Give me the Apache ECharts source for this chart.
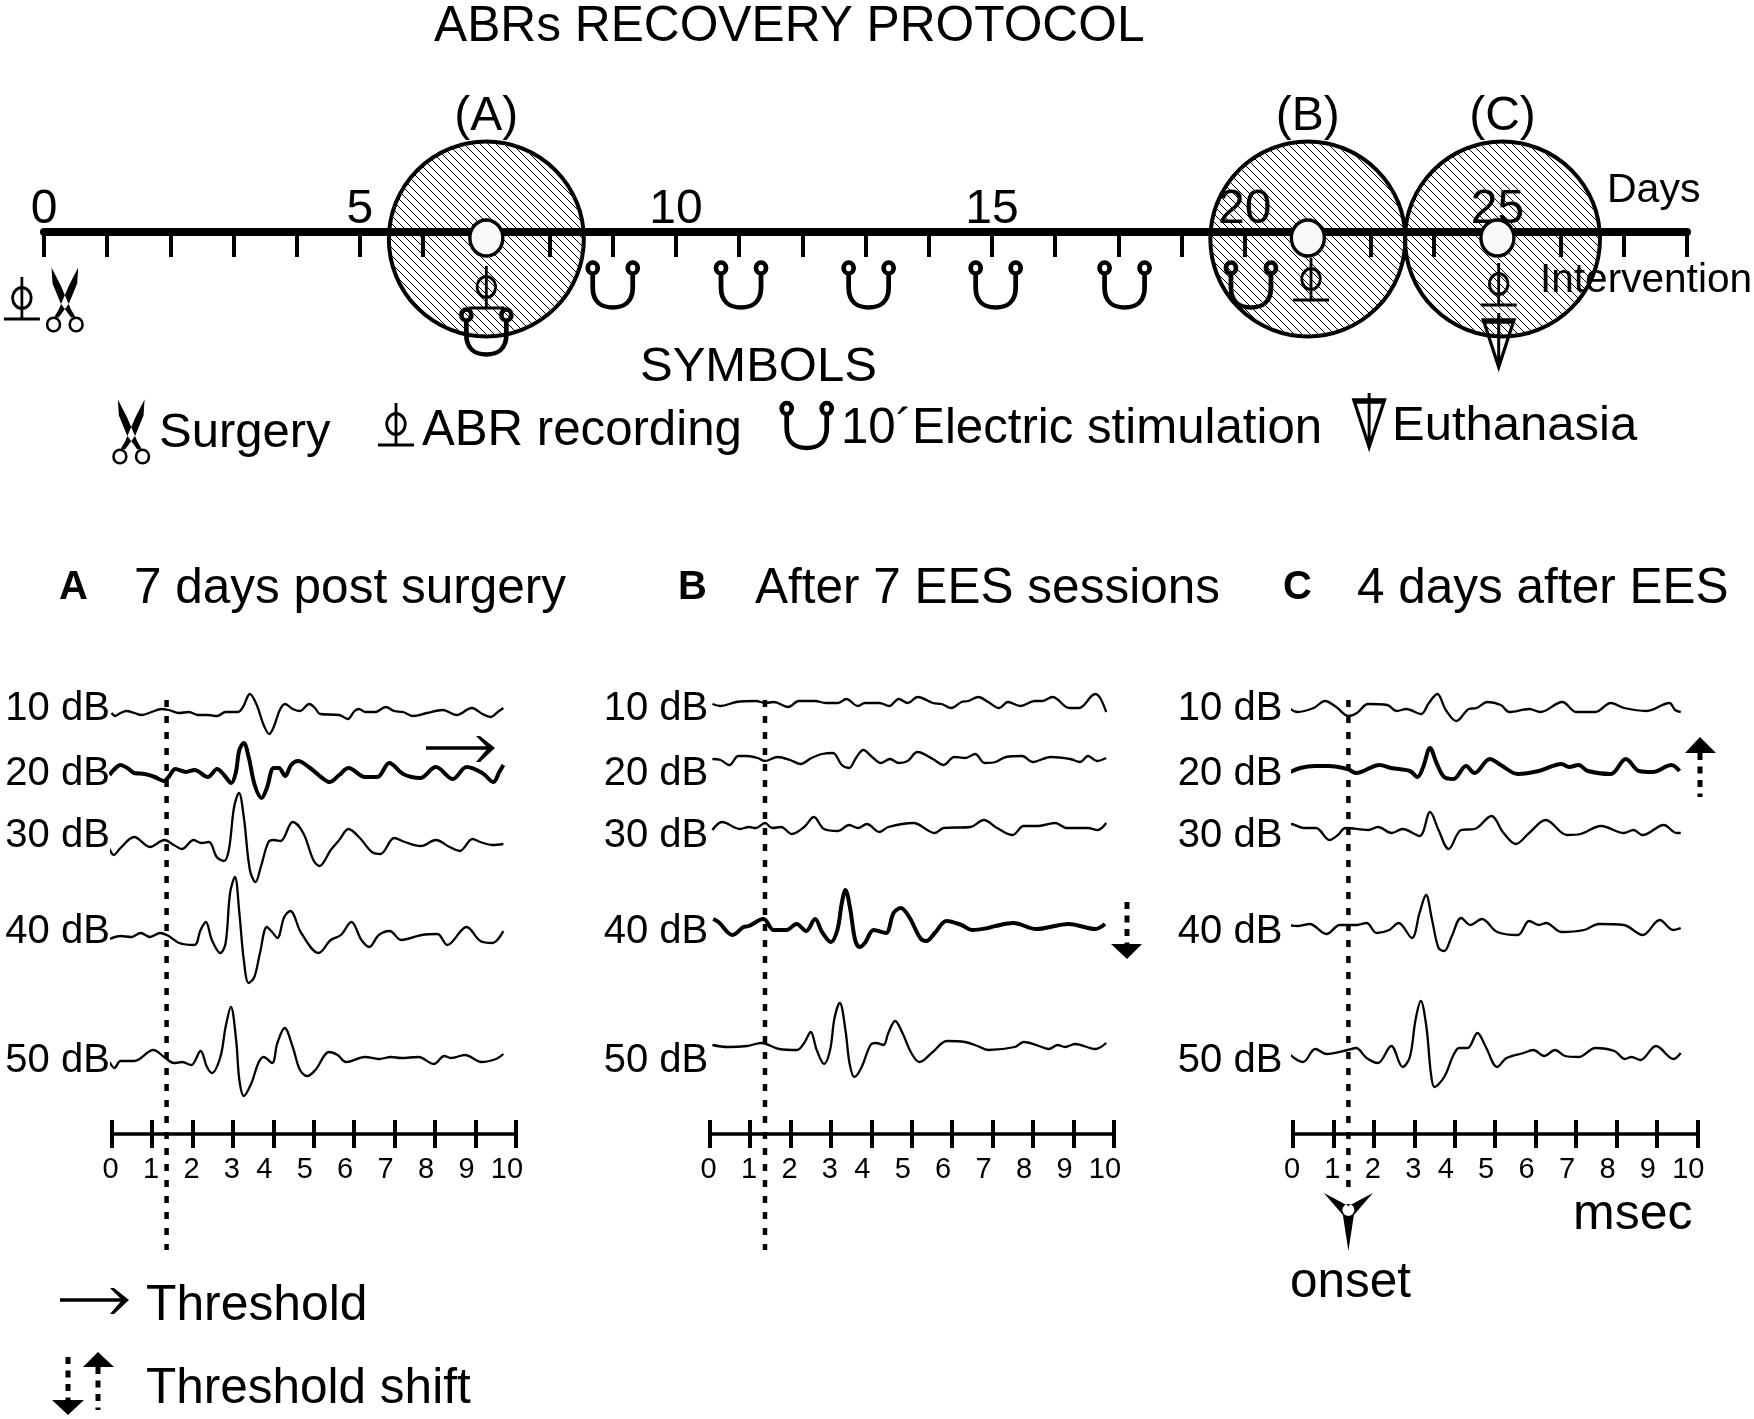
<!DOCTYPE html>
<html><head><meta charset="utf-8">
<style>html,body{margin:0;padding:0;background:#fff}#c{width:1754px;height:1419px}</style>
<script src="https://cdn.jsdelivr.net/npm/echarts@6/dist/echarts.min.js"></script>
</head><body><div id="c"></div>
<script>
// ---------- Protocol timeline ----------
const dayTickLabels = {0:'0',5:'5',10:'10',15:'15',19:'20',23:'25'};
const sessionNames = ['(A)','(B)','(C)'];
const sessionTicks = [7, 20, 23.08];
const recordingMarks = [[7,-6],[20,-6],[23,-6]];
const abrMarks = [[-0.35,-66],[7,-55],[20.05,-47],[23.02,-52],[5.57,-192]];
const surgeryMarks = [[0.33,-68],[1.38,-200]];
const stimMarks = [[7,-100],[9,-53],[11.03,-53],[13.05,-53],[15.06,-53],[17.1,-53],[19.1,-53],[12.07,-193.5]];
const euthanasiaMarks = [[23.02,-108],[20.97,-188]];

// ---------- ABR traces: [ms, amplitude] ----------
const levelLabels = ['10 dB','20 dB','30 dB','40 dB','50 dB'];
const A10=[[0,-1],[0.09,-4],[0.22,-1],[0.37,1],[0.56,-1],[0.75,-3],[0.99,0],[1.23,3],[1.41,2],[1.67,-1],[1.91,0],[2.14,-3],[2.39,-3],[2.61,-4],[2.82,0],[3.12,0],[3.25,5],[3.42,18],[3.59,7],[3.76,-13],[3.90,-22],[4.01,-15],[4.16,2],[4.29,8],[4.48,3],[4.65,1],[4.89,8],[5.03,4],[5.16,-2],[5.63,-3],[5.84,-7],[6.01,1],[6.12,3],[6.27,0],[6.52,0],[6.78,5],[6.99,1],[7.21,0],[7.46,-4],[7.80,-1],[8.19,2],[8.53,-3],[8.91,4],[9.17,-2],[9.38,-5],[9.55,0],[9.69,4]];
const A20=[[-0.05,-3],[0.05,2],[0.22,7],[0.39,4],[0.56,-1],[0.82,-2],[1.07,-5],[1.29,-9],[1.41,-5],[1.58,3],[1.84,0],[2.05,2],[2.38,-5],[2.61,3],[2.78,-3],[2.96,-11],[3.07,-1],[3.16,22],[3.27,29],[3.39,15],[3.54,-13],[3.71,-26],[3.84,-16],[4.01,4],[4.14,4],[4.29,-4],[4.44,7],[4.61,11],[4.91,4],[5.21,-6],[5.40,-10],[5.63,-3],[5.86,4],[6.27,-5],[6.57,-5],[6.87,9],[7.21,-2],[7.63,-6],[8.02,5],[8.44,-7],[8.78,5],[9.17,-1],[9.44,-10],[9.59,0],[9.69,7]];
const A30=[[-0.05,-10],[0.05,-16],[0.22,-9],[0.56,2],[0.95,-8],[1.31,-1],[1.54,-6],[1.74,-10],[2.03,-1],[2.22,-4],[2.41,-3],[2.60,-18],[2.78,-22],[2.90,-11],[3.03,32],[3.15,46],[3.27,22],[3.42,-31],[3.56,-43],[3.69,-28],[3.88,-3],[4.01,-1],[4.18,-2],[4.48,17],[4.74,6],[4.99,-21],[5.14,-27],[5.42,-11],[5.63,-1],[5.86,10],[6.14,1],[6.44,-13],[6.65,-15],[6.99,1],[7.25,-3],[7.65,-7],[8.02,-1],[8.36,-8],[8.61,-12],[8.93,0],[9.12,-3],[9.42,-6],[9.69,-5]];
const A40=[[-0.05,-2],[0.22,1],[0.48,0],[0.72,4],[0.95,0],[1.20,4],[1.41,1],[1.67,-6],[2.05,-8],[2.20,7],[2.33,15],[2.48,-3],[2.69,-16],[2.82,-6],[2.93,44],[3.05,60],[3.16,24],[3.27,-23],[3.39,-46],[3.53,-40],[3.67,-16],[3.84,10],[3.97,5],[4.10,-1],[4.27,20],[4.42,26],[4.69,4],[5.12,-16],[5.42,-3],[5.67,2],[5.93,15],[6.18,-3],[6.37,-10],[6.61,2],[6.88,6],[7.16,-3],[7.67,2],[8.06,3],[8.30,-8],[8.78,10],[9.12,-4],[9.42,-6],[9.69,6]];
const A50=[[-0.05,-2],[0.07,-8],[0.22,-1],[0.56,-1],[1.03,10],[1.33,2],[1.54,-3],[1.75,-2],[1.97,-5],[2.20,9],[2.36,-7],[2.48,-13],[2.69,3],[2.82,33],[2.95,53],[3.08,20],[3.16,-20],[3.27,-36],[3.46,-23],[3.63,-3],[3.76,3],[3.97,-3],[4.10,17],[4.28,32],[4.48,13],[4.66,-10],[4.84,-16],[5.04,-10],[5.38,8],[5.59,5],[5.80,-2],[6.27,3],[6.61,1],[6.91,3],[7.16,2],[7.59,3],[7.97,-4],[8.23,4],[8.40,2],[8.74,5],[9.15,-2],[9.51,1],[9.69,6]];

const B10=[[0.07,-1],[0.27,-3],[0.66,1],[1.15,2],[1.37,0],[1.59,1],[1.94,-4],[2.21,2],[2.61,2],[2.87,0],[3.18,0],[3.38,4],[3.67,-3],[3.84,0],[4.20,0],[4.44,-3],[4.68,4],[4.90,0],[5.15,6],[5.52,0],[5.74,-1],[5.98,-5],[6.23,1],[6.40,2],[6.65,6],[6.89,1],[7.16,-5],[7.38,1],[7.69,-3],[8.04,2],[8.22,2],[8.48,6],[8.90,-5],[9.14,-5],[9.54,9],[9.66,5],[9.81,-9]];
const B20=[[0.07,1],[0.27,0],[0.49,-5],[0.71,4],[0.93,4],[1.19,2],[1.37,-1],[1.68,3],[1.99,0],[2.25,-4],[2.52,2],[2.78,6],[3.05,7],[3.27,-5],[3.45,-8],[3.62,2],[3.80,10],[4.02,3],[4.24,-3],[4.46,1],[4.68,-3],[4.90,-1],[5.14,8],[5.52,1],[5.79,-5],[6.05,3],[6.32,2],[6.57,6],[6.80,-3],[7.07,-2],[7.33,3],[7.73,4],[7.99,-2],[8.44,3],[8.92,1],[9.16,-2],[9.36,4],[9.58,-1],[9.81,2]];
const B30=[[0.07,-3],[0.31,5],[0.75,-2],[0.97,0],[1.15,-1],[1.37,4],[1.55,-1],[1.77,0],[2.03,-7],[2.34,0],[2.58,10],[2.83,-2],[3.18,-4],[3.45,2],[3.67,-1],[3.89,3],[4.20,-5],[4.42,0],[5.04,4],[5.57,-6],[5.79,-1],[6.45,0],[6.78,7],[7.11,-1],[7.49,-8],[7.77,1],[8.13,1],[8.55,4],[8.83,-1],[9.36,-1],[9.60,-3],[9.81,4]];
const B40=[[0.09,8],[0.22,5],[0.57,-8],[0.84,0],[0.97,1],[1.33,8],[1.59,-3],[1.90,-3],[2.15,3],[2.39,-4],[2.61,8],[2.78,-5],[3.00,-15],[3.16,-3],[3.27,24],[3.36,37],[3.47,20],[3.60,-13],[3.71,-20],[3.84,-16],[4.06,-3],[4.36,-6],[4.55,14],[4.73,19],[4.95,9],[5.21,-11],[5.36,-14],[5.57,-6],[5.86,6],[6.23,2],[6.49,-3],[6.89,-1],[7.07,1],[7.51,4],[8.08,-2],[8.88,3],[9.54,-2],[9.78,3]];
const B50=[[0.07,2],[0.44,0],[0.93,1],[1.28,4],[1.72,-2],[2.16,-3],[2.34,4],[2.50,15],[2.65,-3],[2.83,-17],[2.98,-3],[3.09,29],[3.22,44],[3.36,17],[3.46,-16],[3.58,-30],[3.75,-21],[3.98,2],[4.11,4],[4.30,2],[4.42,14],[4.59,26],[4.77,14],[4.99,-6],[5.19,-15],[5.52,-5],[5.87,6],[6.32,5],[6.63,1],[6.89,-3],[7.55,0],[7.77,5],[8.08,2],[8.39,-2],[8.61,2],[8.79,0],[9.04,3],[9.54,-2],[9.81,4]];

const C10=[[-0.15,4],[0.10,-2],[0.51,2],[0.79,9],[1.07,3],[1.37,-6],[1.58,-3],[1.86,6],[2.33,5],[2.57,-1],[2.80,1],[3.17,-4],[3.36,7],[3.57,16],[3.78,0],[4.04,-11],[4.35,1],[4.54,2],[4.81,8],[5.14,5],[5.35,-2],[5.84,1],[6.12,-2],[6.66,8],[7.01,-2],[7.48,-2],[7.86,7],[8.19,2],[8.75,-1],[9.31,7],[9.45,0],[9.59,-2]];
const C20=[[-0.12,-3],[0.18,2],[0.55,4],[0.88,4],[1.35,1],[1.56,-3],[2.14,5],[2.43,2],[2.89,-1],[3.08,-7],[3.22,3],[3.39,22],[3.55,7],[3.74,-7],[3.97,-9],[4.28,4],[4.49,-3],[4.87,11],[5.14,5],[5.56,-4],[6.08,-1],[6.64,6],[6.83,3],[7.06,5],[7.29,-1],[7.86,-4],[8.23,11],[8.56,-1],[8.89,-2],[9.36,5],[9.56,-1]];
const C30=[[-0.15,2],[-0.06,6],[0.27,2],[0.57,2],[0.90,-10],[1.11,-5],[1.30,2],[1.86,0],[2.10,3],[2.44,-3],[2.71,1],[3.13,-6],[3.39,18],[3.60,0],[3.85,-19],[4.16,0],[4.49,1],[4.91,14],[5.19,-2],[5.51,-14],[5.84,-3],[6.25,10],[6.78,-5],[7.11,-4],[7.62,4],[8.18,-3],[8.42,0],[8.65,-5],[9.17,5],[9.49,-3],[9.59,-3]];
const C40=[[-0.15,3],[0.13,2],[0.41,4],[0.83,-6],[1.16,3],[1.58,3],[1.82,5],[2.07,-5],[2.38,-2],[2.61,5],[2.94,-10],[3.13,15],[3.29,33],[3.44,8],[3.60,-20],[3.74,-23],[3.92,-9],[4.16,10],[4.39,3],[4.67,9],[5.05,-4],[5.56,-7],[5.84,7],[6.08,3],[6.26,5],[6.64,-4],[7.20,-2],[7.57,4],[8.18,3],[8.65,-7],[9.07,8],[9.40,-2],[9.59,0]];
const C50=[[-0.15,3],[0.25,-7],[0.55,6],[0.83,1],[1.35,5],[1.56,7],[1.82,-3],[2.10,-8],[2.43,9],[2.71,-12],[2.89,-2],[3.03,35],[3.16,54],[3.30,28],[3.41,-18],[3.50,-32],[3.74,-22],[3.97,0],[4.11,7],[4.32,7],[4.56,22],[4.77,8],[5.05,-12],[5.28,-3],[5.70,2],[5.94,5],[6.22,-1],[6.48,5],[6.73,-1],[7.06,-2],[7.48,7],[7.95,4],[8.21,-4],[8.37,-2],[8.59,-5],[8.98,9],[9.41,-4],[9.59,2]];

const panelHeads = [['A','7 days post surgery'],['B','After 7 EES sessions'],['C','4 days after EES']];
const panelTraces = [[A10,A20,A30,A40,A50],[B10,B20,B30,B40,B50],[C10,C20,C30,C40,C50]];
const thresholdLevel = [1,3,1];           // index of the heavy trace (threshold) per panel
const levelOffsets = [[422,362,295,197,74],[431,374,307,207,87],[424,364,304,206,79]];
const onsetMs = [1.36,1.37,1.37];
const msTicks = [0,1,2,3,4,5,6,7,8,9,10];

// ---------- Layout and glyphs ----------
const FONT = '"Liberation Sans", Arial, sans-serif';
const panelLeft = [111.6,709.6,1293], panelWidth = 404.3, panelTop = 660, panelHeight = 474;
const labelAxisY = [425,360,298,202,73];
const labelX = [-0.03,-0.02,-0.25];
const onsetTop = 434, onsetBottom = [-116,-116,-59];

const G_ABR = 'M18.5,0 L18.5,40 M0,40 L37,40 M9,20 A9.5,10 0 1,0 28,20 A9.5,10 0 1,0 9,20 Z';
const G_U = 'M7,12 L7,25 C7,38 15,43 25,43 C35,43 43,38 43,25 L43,12 M2.5,7 A4.5,5 0 1,0 11.5,7 A4.5,5 0 1,0 2.5,7 Z M38.5,7 A4.5,5 0 1,0 47.5,7 A4.5,5 0 1,0 38.5,7 Z';
const G_SCI = 'M6,0 L15,18 L25,42 L29,49 L25,50 L15,36 L7,16 Z M32,0 L23,18 L13,42 L9,49 L13,50 L23,36 L31,16 Z '
  + 'M0.5,57 A7.5,8 0 1,1 15.5,57 A7.5,8 0 1,1 0.5,57 Z M3,57 A5,5.5 0 1,0 13,57 A5,5.5 0 1,0 3,57 Z '
  + 'M22.5,57 A7.5,8 0 1,1 37.5,57 A7.5,8 0 1,1 22.5,57 Z M25,57 A5,5.5 0 1,0 35,57 A5,5.5 0 1,0 25,57 Z';
const G_EUTH = 'M17,0 L17,54 M1,8 L33,8 L17,54 Z';
const G_ONSET = 'M0,0 L24.5,13 L49,0 L30,22 L24.5,58 L19,22 Z M18.5,17 A6,6 0 1,0 30.5,17 A6,6 0 1,0 18.5,17 Z';

const strokeOnly = w => ({color:'transparent',borderColor:'#000',borderWidth:w,opacity:1});
const mark = (name,data,sym,size,style,z) => ({name,type:'scatter',xAxisIndex:0,yAxisIndex:0,data,symbol:sym,symbolSize:size,itemStyle:Object.assign({opacity:1},style),z,clip:false,silent:true,animation:false});

// diagonal hatch tile for the session circles
const tile = document.createElement('canvas'); tile.width = 8; tile.height = 8;
(function(){ const k = tile.getContext('2d'); k.strokeStyle = '#000'; k.lineWidth = 1;
  k.beginPath(); k.moveTo(-2,-2); k.lineTo(10,10); k.moveTo(6,-2); k.lineTo(10,2); k.moveTo(-2,6); k.lineTo(2,10); k.stroke(); })();

// ---------- Axes ----------
const grids = [{left:44,width:1643,top:102,height:130}];
const xAxes = [{
  gridIndex:0,type:'value',min:0,max:26,interval:1,z:3,position:'bottom',
  axisLine:{show:true,onZero:false,lineStyle:{color:'#000',width:8}},
  axisTick:{show:true,length:25,lineStyle:{color:'#000',width:4}},
  axisLabel:{show:true,inside:true,margin:-2,fontFamily:FONT,fontSize:48,color:'#000',showMinLabel:true,showMaxLabel:true,hideOverlap:false,
    formatter:v => dayTickLabels[v] ?? ''},
  splitLine:{show:false}
}];
const yAxes = [{gridIndex:0,type:'value',min:0,max:130,show:false,splitLine:{show:false}}];
const series = [
  {name:'sessions',type:'custom',xAxisIndex:0,yAxisIndex:0,z:1,clip:false,silent:true,animation:false,
    data:sessionTicks.map(t=>[t,-7]),
    renderItem:(params,api)=>{ const c = api.coord([api.value(0),api.value(1)]);
      return {type:'circle',shape:{cx:c[0],cy:c[1],r:97.5},style:{fill:{image:tile,repeat:'repeat'},stroke:'#000',lineWidth:4}}; },
    encode:{x:0,y:1}},
  {name:'session names',type:'scatter',xAxisIndex:0,yAxisIndex:0,z:2,clip:false,silent:true,animation:false,
    data:sessionTicks.map(t=>[t,91]),symbolSize:1,itemStyle:{color:'transparent',opacity:1},
    label:{show:true,position:'top',distance:0,fontFamily:FONT,fontSize:48,color:'#000',formatter:p=>sessionNames[p.dataIndex]}},
  mark('recordings',recordingMarks,'circle',[33,36],{color:'#f8f9fb',borderColor:'#000',borderWidth:3.5},6),
  mark('abr',abrMarks,'path://'+G_ABR,[36,42],strokeOnly(3),5),
  mark('surgery',surgeryMarks,'path://'+G_SCI,[38,65],{color:'#000'},5),
  mark('stim',stimMarks,'path://'+G_U,[50,45],strokeOnly(4.5),5),
  mark('euth',euthanasiaMarks,'path://'+G_EUTH,[30,54],strokeOnly(4),5)
];

panelTraces.forEach((traces,p) => {
  const g = p+1, xa = xAxes.length;
  grids.push({left:panelLeft[p],width:panelWidth,top:panelTop,height:panelHeight});
  xAxes.push({
    gridIndex:g,type:'value',min:0,max:10,interval:1,position:'bottom',
    axisLine:{show:true,onZero:false,lineStyle:{color:'#000',width:3.5}},
    axisTick:{show:true,length:14,lineStyle:{color:'#000',width:4}},
    axisLabel:{show:true,margin:21,fontFamily:FONT,color:'#000',fontSize:29,showMinLabel:true,showMaxLabel:true,hideOverlap:false,
      formatter:v => (msTicks.indexOf(v)>=4 ? '{far|'+v+'}' : '{near|'+v+'}'),
      rich:{near:{fontFamily:FONT,fontSize:29,color:'#000',padding:[0,2,0,0]},far:{fontFamily:FONT,fontSize:29,color:'#000',padding:[0,18,0,0]}}},
    splitLine:{show:false}
  });
  xAxes.push({
    gridIndex:g,type:'value',min:0,max:10,interval:1,position:'bottom',
    axisLine:{show:false,onZero:false},
    axisTick:{show:true,inside:true,length:14,lineStyle:{color:'#000',width:4}},
    axisLabel:{show:false},splitLine:{show:false}
  });
  yAxes.push({gridIndex:g,type:'value',min:0,max:474,show:false,splitLine:{show:false}});
  traces.forEach((tr,i) => series.push({
    name:panelHeads[p][0]+' '+levelLabels[i],type:'line',xAxisIndex:xa,yAxisIndex:g,
    data:tr.map(([t,a])=>[t,a+levelOffsets[p][i]]),
    showSymbol:false,smooth:0.35,clip:false,silent:true,animation:false,z:4,
    lineStyle:{color:'#000',width:i===thresholdLevel[p]?4:2.3}
  }));
  series.push({name:'onset '+p,type:'line',xAxisIndex:xa,yAxisIndex:g,
    data:[[onsetMs[p],onsetTop],[onsetMs[p],onsetBottom[p]]],showSymbol:false,clip:false,silent:true,animation:false,z:3,
    lineStyle:{color:'#000',width:4.5,type:[7,9]}});
  series.push({name:'levels '+p,type:'scatter',xAxisIndex:xa,yAxisIndex:g,symbolSize:1,clip:false,silent:true,animation:false,
    itemStyle:{color:'transparent',opacity:1},
    data:levelLabels.map((l,i)=>[labelX[p],labelAxisY[i]]),
    label:{show:true,position:'left',distance:0,fontFamily:FONT,fontSize:40,color:'#000',formatter:q=>levelLabels[q.dataIndex]}});
});
// onset marker drawn on panel C
series.push({name:'onset marker',type:'scatter',xAxisIndex:5,yAxisIndex:3,data:[[onsetMs[2],-88]],symbol:'path://'+G_ONSET,symbolSize:[49,58],itemStyle:{color:'#000',opacity:1},z:6,clip:false,silent:true,animation:false});

// ---------- Text and annotations ----------
const T = (text,x,y,size,extra) => ({type:'text',x,y,z:20,silent:true,style:Object.assign({text,fontFamily:FONT,fontSize:size,fill:'#000',align:'left',verticalAlign:'middle'},extra||{})});
const dashed = (x,y1,y2) => ({type:'line',silent:true,z:20,shape:{x1:x,y1,x2:x,y2},style:{stroke:'#000',lineWidth:5,lineDash:[7,6.5]}});
const head = pts => ({type:'polygon',silent:true,z:20,shape:{points:pts},style:{fill:'#000'}});
const shaft = (x1,x2,y) => ({type:'line',silent:true,z:20,shape:{x1,y1:y,x2,y2:y},style:{stroke:'#000',lineWidth:3.5}});
const barb = (x,y) => head([[x-19,y-12],[x-15,y-12],[x,y],[x-15,y+14],[x-19,y+14],[x-7,y]]);
const graphics = [
  T('ABRs RECOVERY PROTOCOL',434,27,49.7),
  T('Days',1607,191,41),
  T('Intervention',1540,281,40.6),
  T('SYMBOLS',640,367,49),
  T('Surgery',159,433,49),
  T('ABR recording',422,431,49.2),
  T('10´Electric stimulation',841,429,49.2),
  T('Euthanasia',1392,426,49),
  T(panelHeads[0][0],59,588,40,{fontWeight:'bold'}),T(panelHeads[0][1],134,589,49.5),
  T(panelHeads[1][0],678,588,40,{fontWeight:'bold'}),T(panelHeads[1][1],755,589,49.5),
  T(panelHeads[2][0],1283,588,40,{fontWeight:'bold'}),T(panelHeads[2][1],1357,589,49.5),
  shaft(426,490,748),barb(495,748),
  dashed(1127,902,944),head([[1111,944],[1142,944],[1127,959]]),
  dashed(1700,753,797),head([[1685,753],[1716,753],[1700,737]]),
  T('msec',1573,1215,50),
  T('onset',1290,1283,49.5),
  shaft(60,124,1300),barb(129,1300),
  T('Threshold',146,1306,49.8),
  dashed(68,1357,1400),head([[52,1400],[84,1400],[68,1415]]),
  dashed(98,1367,1410),head([[83,1367],[114,1367],[98,1352]]),
  T('Threshold shift',146,1389,49.5)
];

const chart = echarts.init(document.getElementById('c'),null,{renderer:'canvas'});
chart.setOption({
  backgroundColor:'#fff',animation:false,
  grid:grids,xAxis:xAxes,yAxis:yAxes,series,
  graphic:{elements:graphics},
  tooltip:{show:false},legend:{show:false}
});
</script></body></html>
